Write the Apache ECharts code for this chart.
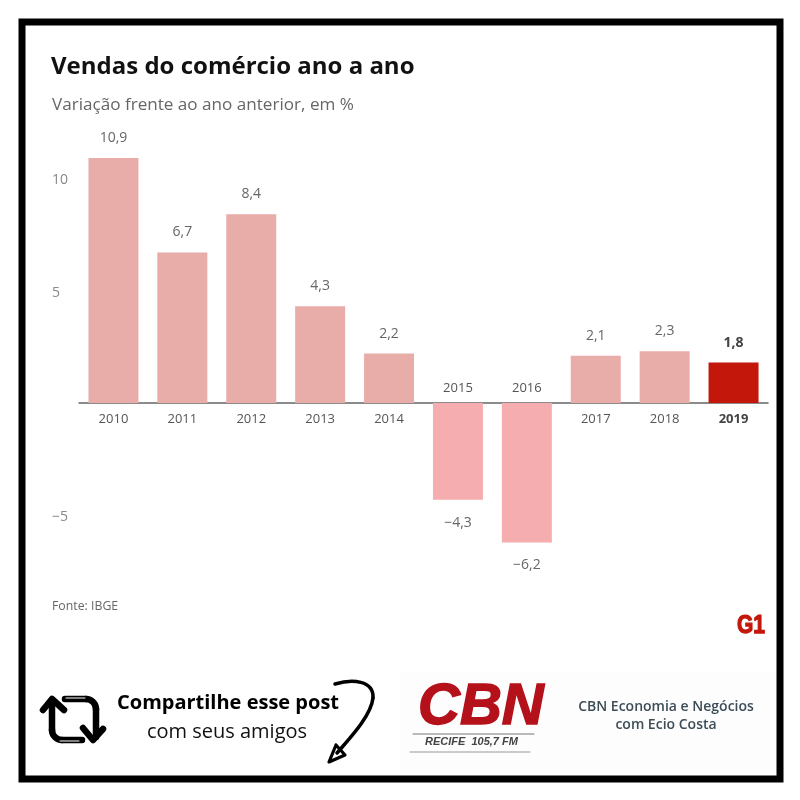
<!DOCTYPE html>
<html><head><meta charset="utf-8">
<style>html,body{margin:0;padding:0;background:#fff}#c{width:800px;height:800px}</style>
<script src="https://cdn.jsdelivr.net/npm/echarts@6/dist/echarts.min.js"></script>
</head><body><div id="c"></div>
<script>
const years = ['2010','2011','2012','2013','2014','2015','2016','2017','2018','2019'];
const values = [10.9,6.7,8.4,4.3,2.2,-4.3,-6.2,2.1,2.3,1.8];
const highlightYear = '2019';
const yTicks = [-5,0,5,10];
const titleText = 'Vendas do comércio ano a ano';
const subtitleText = 'Variação frente ao ano anterior, em %';
const sourceText = 'Fonte: IBGE';

const FONT = '"Open Sans"';
const Y_MIN = -10, Y_MAX = 15, GRID_H = 562;
const zeroOffset = -GRID_H * (0 - Y_MIN) / (Y_MAX - Y_MIN);
const fmt = v => String(v).replace('.', ',').replace('-', '\u2212');
const isNeg = y => values[years.indexOf(y)] < 0;
const chart = echarts.init(document.getElementById('c'), null, {renderer:'canvas'});
const axisCats = years.map(y => y === highlightYear
  ? {value:y, textStyle:{fontWeight:'bold', color:'#444'}} : y);

const txt = (text,x,y,font,fill,align) => ({type:'text',silent:true,
  style:{text,x,y,font,fill,textAlign:align||'left',textVerticalAlign:'middle'}});
const stroke = (shape,type,lineWidth,color) => ({type,silent:true,shape,
  style:{stroke:color||'#000',fill:'none',lineWidth,lineCap:'round',lineJoin:'round'}});

chart.setOption({
  animation:false,
  backgroundColor:'#fff',
  title:[
    {text:titleText,left:51,top:55,padding:0,
     textStyle:{fontFamily:FONT,fontSize:24,fontWeight:'bold',color:'#111'}},
    {text:subtitleText,left:52,top:97,padding:0,
     textStyle:{fontFamily:FONT,fontSize:17.1,fontWeight:'normal',color:'#666'}}
  ],
  grid:{left:79,right:32,top:65.8,height:GRID_H,containLabel:false},
  xAxis:[
    {type:'category',data:axisCats,position:'bottom',offset:zeroOffset,
     axisLine:{show:true,onZero:false,lineStyle:{color:'#666',width:1.5}},
     axisTick:{show:false},
     axisLabel:{interval:0,margin:10,fontFamily:FONT,fontSize:13,color:'#555',
       formatter:v => isNeg(v) ? '' : v}},
    {type:'category',data:years,position:'bottom',offset:zeroOffset,
     axisLine:{show:false,onZero:false},axisTick:{show:false},
     axisLabel:{interval:0,inside:true,margin:8,fontFamily:FONT,fontSize:13,color:'#555',
       formatter:v => isNeg(v) ? v : ''}}
  ],
  yAxis:{type:'value',min:Y_MIN,max:Y_MAX,interval:5,
    axisLine:{show:false},axisTick:{show:false},splitLine:{show:false},
    axisLabel:{align:'left',margin:27,fontFamily:FONT,fontSize:14,color:'#888',
      rich:{t:{fontFamily:FONT,fontSize:14,color:'#888',padding:[4,0,0,0]}},
      formatter:v => yTicks.includes(v) && v !== 0 ? '{t|'+fmt(v)+'}' : ''}},
  series:[{
    type:'bar',xAxisIndex:0,barWidth:50,
    data:values.map((v,i)=> years[i]===highlightYear
      ? {value:v,label:{fontWeight:'bold',color:'#444'}}
      : v<0 ? {value:v,label:{distance:16}} : v),
    itemStyle:{color:p => years[p.dataIndex]===highlightYear ? '#c4170c'
      : (p.value<0 ? '#f5adb0' : '#e8ada9')},
    label:{show:true,position:'outside',distance:13,fontFamily:FONT,fontSize:14,color:'#666',
      formatter:p => fmt(p.value)}
  }],
  graphic:{elements:[
    {type:'rect',silent:true,z:-1,shape:{x:400,y:672,width:376,height:103},style:{fill:'#fdfdfd'}},
    {type:'rect',silent:true,shape:{x:22,y:22,width:758,height:757},
      style:{fill:'none',stroke:'#000',lineWidth:7}},
    txt(sourceText,52,606,'12.3px '+FONT,'#666'),
    {type:'text',silent:true,x:737,y:625.5,scaleY:1.25,
      style:{text:'G1',x:0,y:0,font:'bold 21px "Liberation Sans"',fill:'#c4170c',stroke:'#c4170c',lineWidth:1,
        textAlign:'left',textVerticalAlign:'middle'}},
    // share icon
    stroke({points:[[43,710],[52,699],[64,710]]},'polyline',6.5),
    stroke({points:[[52,700],[52,730]]},'polyline',6.5),
    stroke({cx:62,cy:730,r:10,startAngle:Math.PI/2,endAngle:Math.PI,clockwise:true},'arc',6.5),
    stroke({points:[[62,740],[82,740]]},'polyline',6.5),
    stroke({points:[[65,699],[86,699]]},'polyline',6.5),
    stroke({cx:86,cy:709,r:10,startAngle:-Math.PI/2,endAngle:0,clockwise:true},'arc',6.5),
    stroke({points:[[96,709],[96,737]]},'polyline',6.5),
    stroke({points:[[83,728],[93,740],[103,729]]},'polyline',6.5),
    stroke({points:[[66,698],[85,698]]},'polyline',1,'#fff'),
    stroke({points:[[60,741],[79,741]]},'polyline',1,'#fff'),
    txt('Compartilhe esse post',228,703,'bold 20px "Open Sans"','#000','center'),
    txt('com seus amigos',227,732,'20px "Open Sans"','#111','center'),
    // curved arrow
    stroke({x1:335,y1:684,cpx1:352,cpy1:679,cpx2:374,cpy2:680,x2:373,y2:698},'bezierCurve',3.5),
    stroke({x1:373,y1:698,cpx1:371,cpy1:716,cpx2:350,cpy2:738,x2:337,y2:753},'bezierCurve',3.5),
    stroke({points:[[336,745],[329,762],[345,755],[336,745]]},'polyline',3.2),
    // station logo
    {type:'text',silent:true,style:{text:'CBN',x:418,y:708,font:'italic bold 58px "Liberation Sans"',
      fill:'#b5111b',stroke:'#b5111b',lineWidth:1.5,textAlign:'left',textVerticalAlign:'middle'}},
    stroke({points:[[413,734],[534,734]]},'polyline',1,'#777'),
    txt('RECIFE  105,7 FM',425,742,'italic bold 11px "Liberation Sans"','#444'),
    stroke({points:[[410,752],[530,752]]},'polyline',1,'#999'),
    txt('CBN Economia e Negócios',666,707,'600 14px "Open Sans"','#3d4d58','center'),
    txt('com Ecio Costa',666,725,'600 14px "Open Sans"','#3d4d58','center')
  ]}
});
</script></body></html>
